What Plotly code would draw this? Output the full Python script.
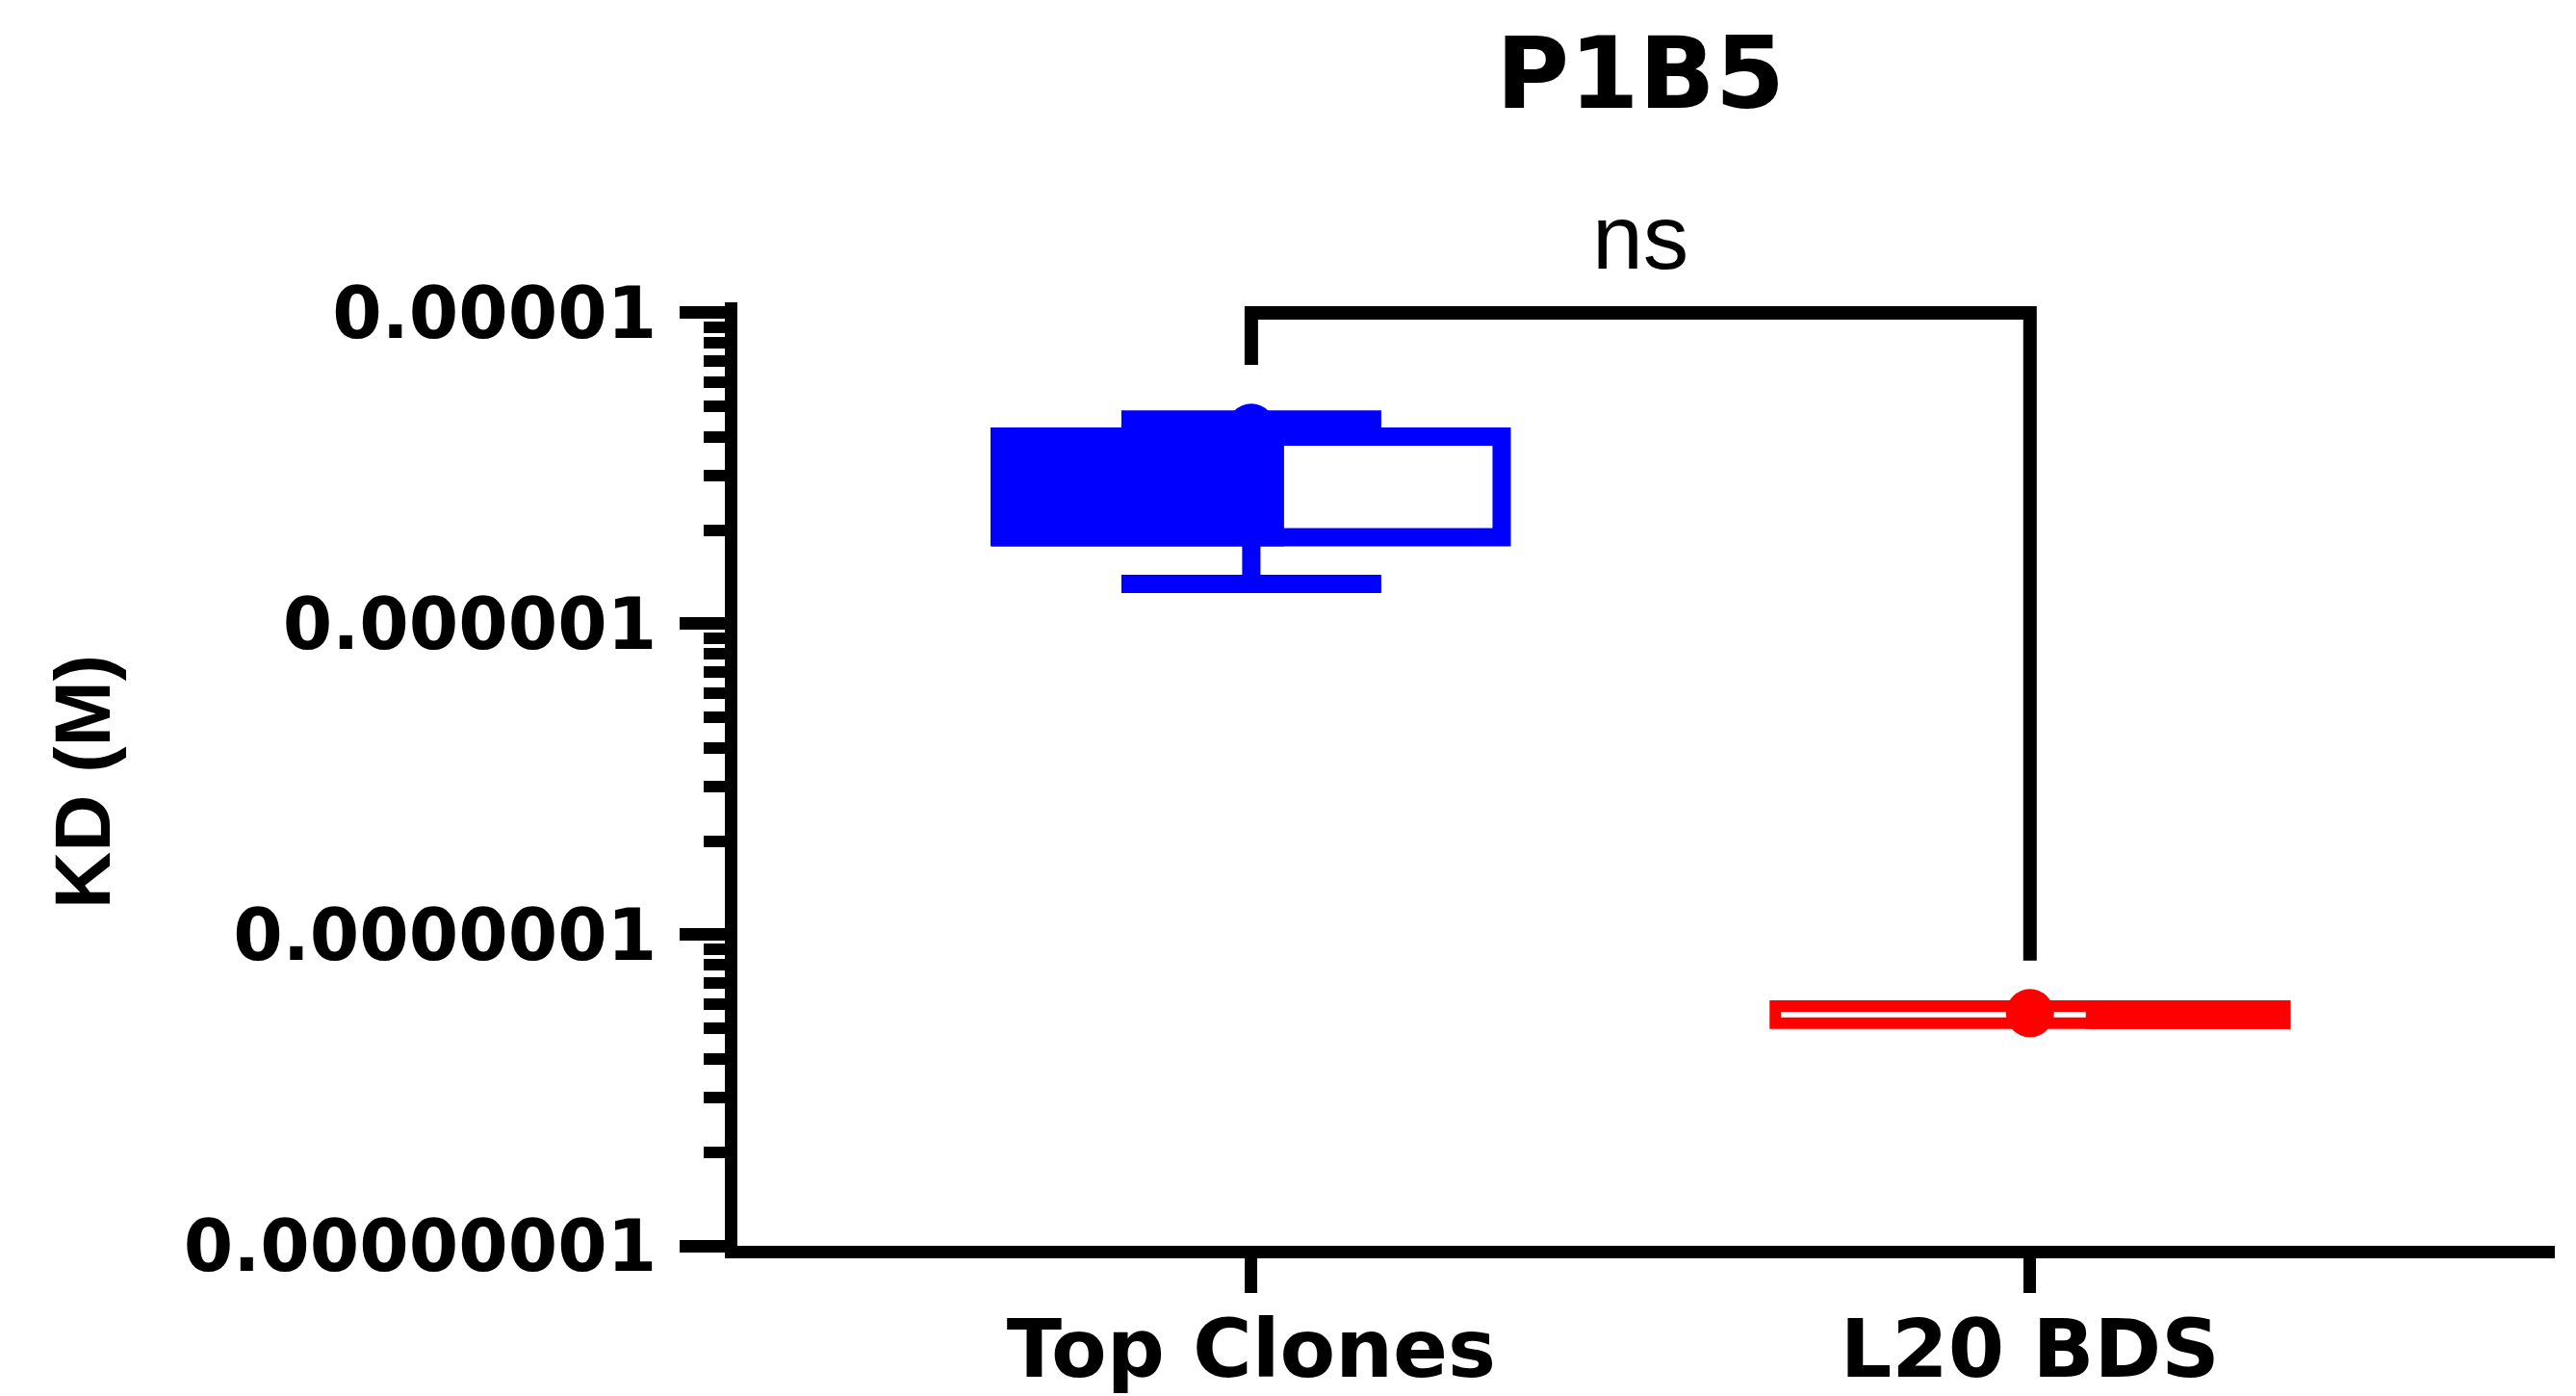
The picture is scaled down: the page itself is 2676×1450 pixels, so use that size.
import plotly.graph_objects as go

# ---- data ----
categories = ["Top Clones", "L20 BDS"]
q1 = [1.9e-6, 5.2e-8]
median = [3.15e-6, 5.6e-8]
q3 = [4.0e-6, 5.9e-8]
whisker_low = [1.345e-6, 5.2e-8]
whisker_high = [4.54e-6, 5.9e-8]
points_y = [[4.27e-6], [5.6e-8]]          # individual points that are visible
y_tickvals = [1e-8, 1e-7, 1e-6, 1e-5]
y_ticktext = ["0.00000001", "0.0000001", "0.000001", "0.00001"]
title_text = "P1B5"
y_title = "KD (M)"
sig_text = "ns"

# ---- styles ----
colors = ["#0000FF", "#FF0000"]
outline_lw = [19, 12]
box_width = [0.643, 0.654]
fill_offset = [-0.3232, 0.0791]
fill_width = [0.3535, 0.248]
bracket_gap = [1.50, 1.40]
BOLD = "DejaVu Sans"

# page body has an 8px margin, so the figure is 8px smaller than the window
W, H = 2668, 1442
L, R, T, B = 758, 22, 306, 156
plot_h = H - T - B
plot_w = W - L - R


def py(p):
    """paper y for a pixel row inside the figure"""
    return (H - B - p) / plot_h


fig = go.Figure()

for i, cat in enumerate(categories):
    # outlined box
    fig.add_trace(go.Bar(
        x=[cat], y=[q3[i] - q1[i]], base=[q1[i]], width=box_width[i],
        marker=dict(color="white", line=dict(color=colors[i], width=outline_lw[i])),
        showlegend=False, hoverinfo="skip"))
    # solid part of the box
    fig.add_trace(go.Bar(
        x=[cat], y=[q3[i] - q1[i]], base=[q1[i]], width=fill_width[i], offset=fill_offset[i],
        marker=dict(color=colors[i], line=dict(color=colors[i], width=outline_lw[i])),
        showlegend=False, hoverinfo="skip"))

for i, cat in enumerate(categories):
    has_whisker = whisker_high[i] > q3[i] or whisker_low[i] < q1[i]
    fig.add_trace(go.Scatter(
        x=[cat], y=[median[i]], mode="markers",
        marker=dict(size=1, color=colors[i], opacity=0),
        error_y=dict(type="data", symmetric=False,
                     array=[whisker_high[i] - median[i]],
                     arrayminus=[median[i] - whisker_low[i]],
                     color=colors[i], thickness=19, width=135,
                     visible=has_whisker),
        showlegend=False, hoverinfo="skip"))
    fig.add_trace(go.Scatter(
        x=[cat] * len(points_y[i]), y=points_y[i], mode="markers",
        marker=dict(size=50, color=colors[i]),
        showlegend=False, cliponaxis=False))

# significance bracket
top = y_tickvals[-1]
fig.add_trace(go.Scatter(
    x=[categories[0], categories[0], categories[1], categories[1]],
    y=[whisker_high[0] * bracket_gap[0], top, top, whisker_high[1] * bracket_gap[1]],
    mode="lines", line=dict(color="black", width=14),
    showlegend=False, hoverinfo="skip"))

minor_vals = [k * 10 ** e for e in (-8, -7, -6) for k in range(2, 10)]

fig.update_layout(
    width=W, height=H, margin=dict(l=L, r=R, t=T, b=B, autoexpand=False),
    paper_bgcolor="white", plot_bgcolor="white",
    barmode="overlay", showlegend=False,
    xaxis=dict(
        type="category", range=[-0.660, 1.674], automargin=False,
        showline=True, linecolor="black", linewidth=13,
        ticks="outside", ticklen=36, tickwidth=13, tickcolor="black",
        ticklabelstandoff=-14,
        tickfont=dict(family=BOLD, size=84, color="black", weight="bold"),
        showgrid=False, zeroline=False,
    ),
    yaxis=dict(
        type="log", range=[-8.0, -4.966], automargin=False,
        showline=True, linecolor="black", linewidth=13,
        tickmode="array", tickvals=y_tickvals, ticktext=y_ticktext,
        ticks="outside", ticklen=47, tickwidth=13, tickcolor="black",
        ticklabelstandoff=9,
        tickfont=dict(family=BOLD, size=74, color="black", weight="bold"),
        minor=dict(tickmode="array", tickvals=minor_vals, ticks="outside",
                   ticklen=22, tickwidth=12, tickcolor="black", showgrid=False),
        showgrid=False, zeroline=False,
    ),
    annotations=[
        dict(text=title_text, x=0.5, xref="x", y=py(68), yref="paper",
             xanchor="center", yanchor="middle", showarrow=False,
             font=dict(family=BOLD, size=104, color="black", weight="bold")),
        dict(text=sig_text, x=0.5, xref="x", y=py(238), yref="paper",
             xanchor="center", yanchor="middle", showarrow=False,
             font=dict(family="Liberation Sans", size=95, color="black")),
        dict(text=y_title, x=(77 - L) / plot_w, xref="paper",
             y=py(804), yref="paper", textangle=-90,
             xanchor="center", yanchor="middle", showarrow=False,
             font=dict(family="Liberation Sans", size=82,
                       color="black", weight="bold")),
    ],
)

fig.write_html("out.html")
